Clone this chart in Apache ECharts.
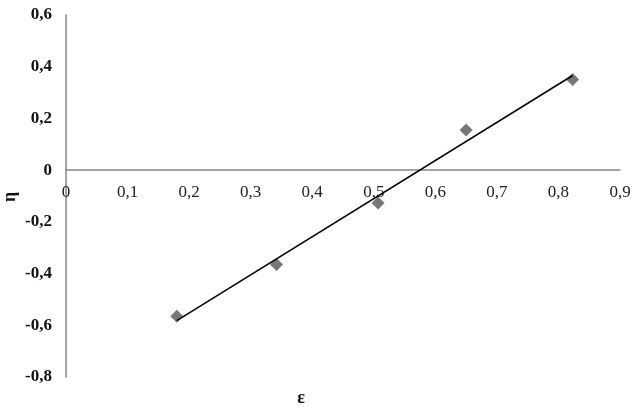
<!DOCTYPE html>
<html><head><meta charset="utf-8">
<script src="https://cdn.jsdelivr.net/npm/echarts@6/dist/echarts.min.js"></script>
<style>html,body{margin:0;padding:0;background:#fff}#c{width:640px;height:415px}</style>
</head><body><div id="c"></div>
<script>
const epsValues = [0.18, 0.342, 0.507, 0.65, 0.823];
const etaValues = [-0.565, -0.365, -0.127, 0.155, 0.351];
const trendX = [0.18, 0.823];
const trendY = [-0.582, 0.366];
const xAxisName = 'ε';
const yAxisName = 'η';
const yMin = -0.8, yMax = 0.6;

const points = epsValues.map((x, i) => [x, etaValues[i]]);
const trend = trendX.map((x, i) => [x, trendY[i]]);
const fmt = v => { const r = Math.round(v * 10) / 10; return r === 0 ? '0' : String(r).replace('.', ','); };

const gridTop = 15, gridBottom = 38, H = 415;
const gridH = H - gridTop - gridBottom;
const zeroOffset = -gridH * (0 - yMin) / (yMax - yMin);

const chart = echarts.init(document.getElementById('c'));
chart.setOption({
  animation: false,
  backgroundColor: '#fff',
  grid: { left: 66, right: 20, top: gridTop, bottom: gridBottom, containLabel: false, outerBoundsMode: 'none' },
  xAxis: {
    type: 'value', min: 0, max: 0.9, interval: 0.1,
    offset: zeroOffset,
    axisLine: { onZero: false, lineStyle: { color: '#868686', width: 1.5 } },
    axisTick: { show: false },
    splitLine: { show: false },
    axisLabel: { formatter: fmt, color: '#222', fontFamily: 'Liberation Serif', fontSize: 17, margin: 14 }
  },
  yAxis: {
    type: 'value', min: yMin, max: yMax, interval: 0.2,
    axisLine: { show: true, onZero: false, lineStyle: { color: '#868686', width: 1.5 } },
    axisTick: { show: false },
    splitLine: { show: false },
    axisLabel: { formatter: fmt, color: '#111', fontFamily: 'Liberation Serif', fontSize: 17, fontWeight: 'bold', margin: 14 }
  },
  graphic: [{
    type: 'text', x: 301, y: 398,
    style: { text: xAxisName, font: 'bold 18px "Liberation Serif"', fill: '#111', align: 'center', verticalAlign: 'middle' }
  }, {
    type: 'text', x: 10, y: 197, rotation: Math.PI / 2,
    style: { text: yAxisName, font: 'bold 18px "Liberation Serif"', fill: '#111', align: 'center', verticalAlign: 'middle' }
  }],
  series: [
    { type: 'line', data: trend, symbol: 'none', lineStyle: { color: '#000', width: 1.5 }, z: 3 },
    { type: 'scatter', data: points, symbol: 'diamond', symbolSize: 13, itemStyle: { color: '#555' }, z: 2 }
  ]
});
</script></body></html>
